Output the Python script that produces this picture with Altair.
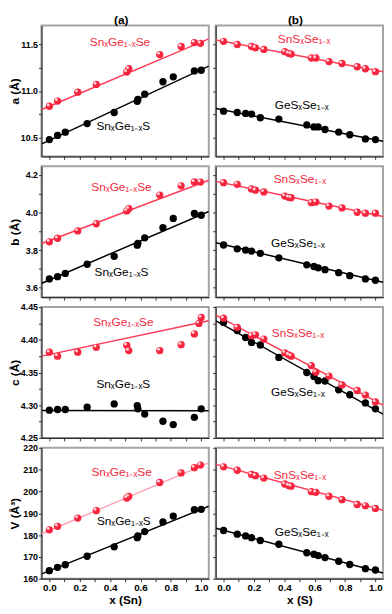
import altair as alt
import pandas as pd

# ---------------- data ----------------
# Sn_xGe_1-xS  (black, column a)
X_SNGES = [0.0, 0.054, 0.105, 0.249, 0.427, 0.579, 0.583, 0.628, 0.748, 0.816, 0.955, 1.0]
A_SNGES = [10.48, 10.525, 10.56, 10.651, 10.77, 10.889, 10.91, 10.966, 11.099, 11.151, 11.215, 11.222]
B_SNGES = [3.647, 3.659, 3.676, 3.725, 3.767, 3.826, 3.836, 3.865, 3.919, 3.968, 3.995, 3.985]
C_SNGES = [4.2925, 4.2935, 4.2935, 4.297, 4.302, 4.2995, 4.2945, 4.2865, 4.2755, 4.2705, 4.2815, 4.2945]
V_SNGES = [163.7, 165.2, 166.4, 170.3, 174.6, 178.8, 179.6, 181.6, 186.0, 188.7, 191.6, 191.8]

# Sn_xGe_1-xSe  (red, column a)
X_SNGESE = [0.0, 0.054, 0.187, 0.309, 0.51, 0.523, 0.727, 0.868, 0.955, 0.995]
A_SNGESE = [10.837, 10.892, 10.987, 11.07, 11.203, 11.238, 11.389, 11.476, 11.518, 11.51]
B_SNGESE = [3.844, 3.863, 3.902, 3.94, 4.008, 4.02, 4.092, 4.141, 4.162, 4.161]
V_SNGESE = [182.4, 184.0, 187.8, 191.2, 197.0, 197.7, 204.1, 208.5, 210.9, 212.1]
XC_SNGESE = [0.0, 0.054, 0.187, 0.309, 0.51, 0.523, 0.727, 0.868, 0.955, 0.985, 1.0]
C_SNGESE = [4.381, 4.375, 4.381, 4.3885, 4.3915, 4.3835, 4.3835, 4.3925, 4.409, 4.425, 4.434]

# GeS_xSe_1-x  (black, column b)
X_GESSE = [0.0, 0.09, 0.145, 0.184, 0.242, 0.364, 0.548, 0.595, 0.623, 0.668, 0.758, 0.831, 0.934, 1.0]
A_GESSE = [10.784, 10.77, 10.76, 10.753, 10.714, 10.70, 10.637, 10.616, 10.616, 10.588, 10.561, 10.532, 10.487, 10.48]
B_GESSE = [3.827, 3.807, 3.8, 3.795, 3.783, 3.759, 3.722, 3.713, 3.706, 3.696, 3.68, 3.664, 3.647, 3.64]
C_GESSE = [4.4265, 4.414, 4.4035, 4.396, 4.392, 4.373, 4.35, 4.344, 4.3375, 4.337, 4.3235, 4.316, 4.3035, 4.2945]
V_GESSE = [182.1, 180.4, 179.6, 178.8, 177.5, 175.8, 171.9, 171.2, 170.6, 169.7, 168.0, 166.5, 164.6, 164.0]

# SnS_xSe_1-x  (red, column b)
X_SNSSE = [0.0, 0.09, 0.184, 0.21, 0.265, 0.403, 0.428, 0.445, 0.578, 0.608, 0.694, 0.78, 0.88, 0.934, 1.0]
A_SNSSE = [11.531, 11.497, 11.476, 11.462, 11.444, 11.42, 11.403, 11.395, 11.353, 11.353, 11.315, 11.294, 11.259, 11.238, 11.206]
B_SNSSE = [4.158, 4.149, 4.125, 4.118, 4.109, 4.087, 4.08, 4.078, 4.052, 4.055, 4.034, 4.024, 4.001, 3.996, 3.996]
C_SNSSE = [4.433, 4.419, 4.406, 4.4075, 4.401, 4.38, 4.377, 4.375, 4.3605, 4.3505, 4.3445, 4.331, 4.3225, 4.3155, 4.305]
V_SNSSE = [211.3, 209.7, 207.8, 207.2, 206.1, 203.4, 202.7, 202.4, 199.9, 199.6, 197.8, 196.2, 194.0, 193.4, 192.2]

# straight guide lines (end values at x = -0.05 and 1.05)
LINE_X = [-0.05, 1.05]
LINES = {
    ("a", 0): ([10.802, 11.557], [10.435, 11.266]),
    ("a", 1): ([11.546, 11.205], [10.812, 10.462]),
    ("b", 0): ([3.835, 4.171], [3.624, 4.005]),
    ("b", 1): ([4.165, 3.978], [3.839, 3.629]),
    ("c", 0): ([4.375, 4.429], [4.292, 4.2915]),
    ("c", 1): ([4.4375, 4.30], [4.429, 4.2865]),
    ("V", 0): ([180.6, 213.1], [162.2, 193.2]),
    ("V", 1): ([212.4, 191.4], [183.1, 162.6]),
}

# in-panel labels
LABEL_TEXT = {
    0: ("Sn\u2093Ge\u2081\u208b\u2093Se", "Sn\u2093Ge\u2081\u208b\u2093S"),
    1: ("SnS\u2093Se\u2081\u208b\u2093", "GeS\u2093Se\u2081\u208b\u2093"),
}
LABEL_POS = {
    ("a", 0): ((0.465, 11.528), (0.487, 10.62)),
    ("a", 1): ((0.53, 11.557), (0.514, 10.847)),
    ("b", 0): ((0.475, 4.136), (0.475, 3.682)),
    ("b", 1): ((0.503, 4.179), (0.49, 3.839)),
    ("c", 0): ((0.487, 4.4275), (0.487, 4.3325)),
    ("c", 1): ((0.49, 4.41), (0.49, 4.32)),
    ("V", 0): ((0.476, 209.0), (0.49, 186.5)),
    ("V", 1): ((0.503, 207.4), (0.514, 181.3)),
}

X_DOMAIN = [-0.052, 1.05]
X_TICKS = [0.0, 0.1, 0.2, 0.3, 0.4, 0.5, 0.6, 0.7, 0.8, 0.9, 1.0]
X_TITLES = ["x (Sn)", "x (S)"]
COL_TITLES = ["(a)", "(b)"]

Y_DOMAINS = {"a": [10.3, 11.7], "b": [3.55, 4.245], "c": [4.25, 4.45], "V": [160, 220]}
Y_TICKS = {
    "a": [10.5, 10.75, 11.0, 11.25, 11.5],
    "b": [3.6, 3.7, 3.8, 3.9, 4.0, 4.1, 4.2],
    "c": [4.25, 4.275, 4.3, 4.325, 4.35, 4.375, 4.4, 4.425, 4.45],
    "V": [160, 170, 180, 190, 200, 210, 220],
}
Y_STEP = {"a": 0.5, "b": 0.2, "c": 0.05, "V": 10}
Y_FMT = {"a": ".1f", "b": ".1f", "c": ".2f", "V": "d"}
Y_TITLES = {"a": "a (Å)", "b": "b (Å)", "c": "c (Å)", "V": "V (Å³)"}

DATA = {
    ("a", 0): (X_SNGESE, A_SNGESE, X_SNGES, A_SNGES),
    ("a", 1): (X_SNSSE, A_SNSSE, X_GESSE, A_GESSE),
    ("b", 0): (X_SNGESE, B_SNGESE, X_SNGES, B_SNGES),
    ("b", 1): (X_SNSSE, B_SNSSE, X_GESSE, B_GESSE),
    ("c", 0): (XC_SNGESE, C_SNGESE, X_SNGES, C_SNGES),
    ("c", 1): (X_SNSSE, C_SNSSE, X_GESSE, C_GESSE),
    ("V", 0): (X_SNGESE, V_SNGESE, X_SNGES, V_SNGES),
    ("V", 1): (X_SNSSE, V_SNSSE, X_GESSE, V_GESSE),
}

# ---------------- styling ----------------
RED = "#f7263f"
RED_TEXT = "#f2283c"
RED_LINE = "#ff3b55"
PINK_LINE = "#ffa3b4"
FONT = "Liberation Sans"
W = 170
H = 133


def make_panel(key, col, bottom, top):
    step = Y_STEP[key]
    if bottom:
        xaxis = alt.Axis(values=X_TICKS, title=X_TITLES[col], labelFontSize=10,
                         labelExpr="round(datum.value*10) % 2 == 0 ? format(datum.value, '.1f') : ''")
    else:
        xaxis = alt.Axis(values=X_TICKS, labels=False, title=None)
    if col == 0:
        yaxis = alt.Axis(values=Y_TICKS[key], title=Y_TITLES[key], titleX=-20, titleY=H / 2,
                         labelExpr=f"abs(datum.value/{step} - round(datum.value/{step})) < 0.001 ? format(datum.value, '{Y_FMT[key]}') : ''")
    else:
        yaxis = alt.Axis(values=Y_TICKS[key], labels=False, title=None)

    xs = alt.Scale(domain=X_DOMAIN, nice=False, zero=False)
    ys = alt.Scale(domain=Y_DOMAINS[key], nice=False, zero=False)
    enc = dict(x=alt.X("x:Q", scale=xs, axis=xaxis), y=alt.Y("y:Q", scale=ys, axis=yaxis))

    rx, ry, bx, by = DATA[(key, col)]
    rl, bl = LINES[(key, col)]
    (rpx, rpy), (bpx, bpy) = LABEL_POS[(key, col)]
    rt, bt = LABEL_TEXT[col]

    red_pts = pd.DataFrame({"x": rx, "y": ry})
    blk_pts = pd.DataFrame({"x": bx, "y": by})
    red_ln = pd.DataFrame({"x": LINE_X, "y": rl})
    blk_ln = pd.DataFrame({"x": LINE_X, "y": bl})
    red_lab = pd.DataFrame({"x": [rpx], "y": [rpy], "t": [rt]})
    blk_lab = pd.DataFrame({"x": [bpx], "y": [bpy], "t": [bt]})

    line_col = PINK_LINE if (key == "V" and col == 0) else RED_LINE

    layers = [
        alt.Chart(red_ln).mark_line(color=line_col, strokeWidth=1.5, clip=True).encode(**enc),
        alt.Chart(blk_ln).mark_line(color="#000000", strokeWidth=1.5, clip=True).encode(**enc),
        alt.Chart(blk_pts).mark_circle(size=55, color="#000000", opacity=1).encode(**enc),
        alt.Chart(red_pts).mark_circle(size=55, color=RED, opacity=1).encode(**enc),
        alt.Chart(red_pts).mark_circle(size=9, color="#ffd0d8", opacity=1, xOffset=-1.3, yOffset=-1.3).encode(**enc),
        alt.Chart(red_lab).mark_text(font=FONT, fontSize=12, color=RED_TEXT, align="center", baseline="middle").encode(text="t:N", **enc),
        alt.Chart(blk_lab).mark_text(font=FONT, fontSize=12, color="#000000", align="center", baseline="middle").encode(text="t:N", **enc),
    ]
    if top:
        head = pd.DataFrame({"t": [COL_TITLES[col]]})
        layers.append(
            alt.Chart(head).mark_text(font=FONT, fontSize=12, fontWeight="bold", color="#000000",
                                      align="center", baseline="top")
            .encode(text="t:N", x=alt.value(W / 2 - 4), y=alt.value(-11))
        )
    return alt.layer(*layers).properties(width=W, height=H)


panels = []
for key in ["a", "b", "c", "V"]:
    for col in [0, 1]:
        panels.append(make_panel(key, col, key == "V", key == "a"))

chart = alt.concat(
    *panels, columns=2, spacing=alt.RowColnumber(row=10, column=7), bounds="flush",
    padding={"left": 0, "top": 0, "right": 0, "bottom": 0},
    autosize=alt.AutoSizeParams(type="pad"),
).configure_view(
    stroke="#a3a3a3", strokeWidth=2
).configure_axis(
    labelFont=FONT, labelFontWeight="bold", labelFontSize=9, labelColor="#000000",
    titleFont=FONT, titleFontWeight="bold", titleFontSize=12, titleColor="#000000",
    tickSize=3, tickColor="#333333", domainColor="#333333", domainWidth=1.2,
    grid=False, labelPadding=1, titlePadding=2,
)

chart.save("out.html", embed_options={"renderer": "svg", "actions": False})
